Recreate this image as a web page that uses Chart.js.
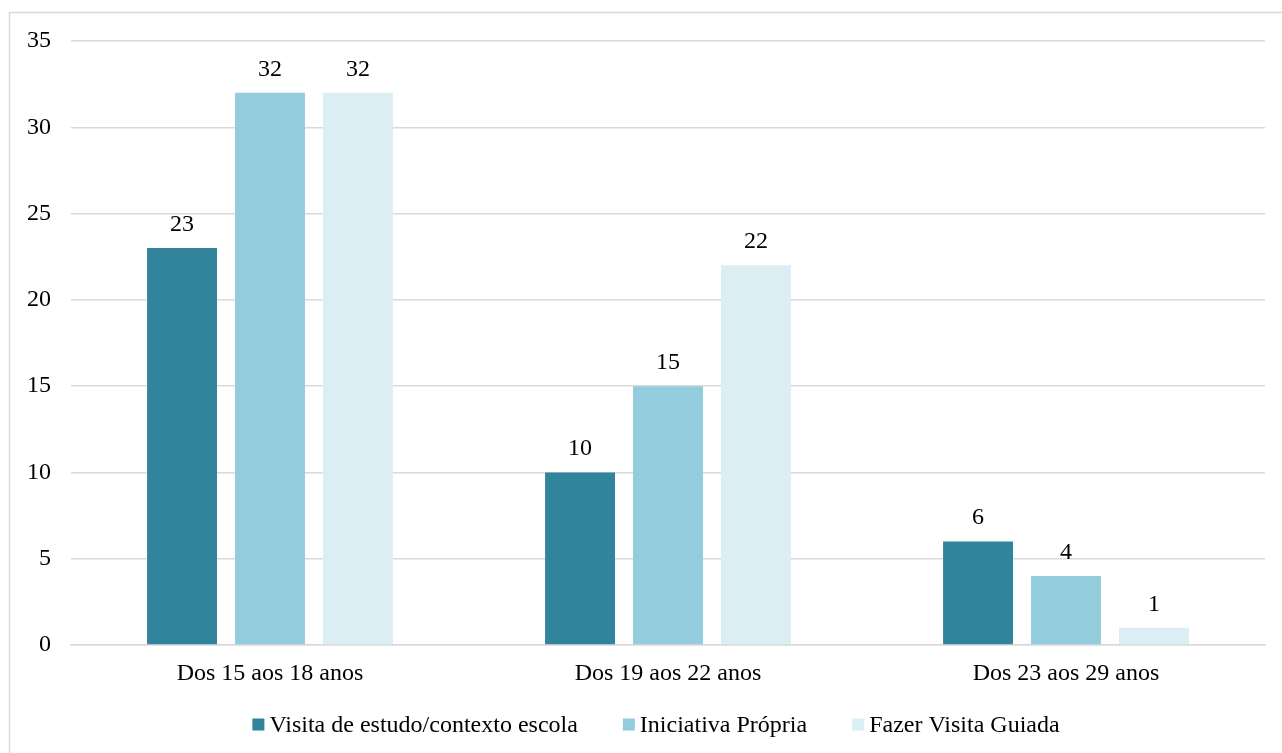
<!DOCTYPE html>
<html>
<head>
<meta charset="utf-8">
<script src="https://cdn.jsdelivr.net/npm/chart.js@4/dist/chart.umd.min.js"></script>
<style>
  html, body { margin: 0; padding: 0; background: #ffffff; }
  #wrap { width: 1282px; height: 753px; position: relative; }
</style>
</head>
<body>
<div id="wrap"><canvas id="c" width="1282" height="753"></canvas></div>
<script>
// Age groups on the x axis
const categories = ['Dos 15 aos 18 anos', 'Dos 19 aos 22 anos', 'Dos 23 aos 29 anos'];

// Series
const seriesNames = ['Visita de estudo/contexto escola', 'Iniciativa Própria', 'Fazer Visita Guiada'];
const visitaEstudo = [23, 10, 6];
const iniciativaPropria = [32, 15, 4];
const visitaGuiada = [32, 22, 1];
const seriesColors = ['#31849B', '#93CDDD', '#DAEEF3'];

// Value axis ticks
const yTicks = [0, 5, 10, 15, 20, 25, 30, 35];

const FONT = 'Liberation Serif, "Times New Roman", serif';

// Light frame along the top and left edges of the chart
const framePlugin = {
  id: 'frame',
  beforeDraw(chart) {
    const ctx = chart.ctx;
    ctx.save();
    ctx.strokeStyle = '#d9d9d9';
    ctx.lineWidth = 1.5;
    ctx.beginPath();
    ctx.moveTo(9.5, chart.height);
    ctx.lineTo(9.5, 12.5);
    ctx.lineTo(chart.width, 12.5);
    ctx.stroke();
    ctx.restore();
  }
};

// Value labels above each bar
const valueLabels = {
  id: 'valueLabels',
  afterDatasetsDraw(chart) {
    const ctx = chart.ctx;
    ctx.save();
    ctx.font = '24px ' + FONT;
    ctx.fillStyle = '#000000';
    ctx.textAlign = 'center';
    ctx.textBaseline = 'alphabetic';
    chart.data.datasets.forEach((ds, i) => {
      chart.getDatasetMeta(i).data.forEach((bar, j) => {
        ctx.fillText(String(ds.data[j]), bar.x, bar.y - 17);
      });
    });
    ctx.restore();
  }
};

// Compact legend row under the axis: small square, tight gap, label
const legendRow = {
  id: 'legendRow',
  afterDraw(chart) {
    const ctx = chart.ctx;
    const box = 12, gap = 5, itemGap = 45;
    const centerX = 656, centerY = 724.5;
    ctx.save();
    ctx.font = '24px ' + FONT;
    ctx.textBaseline = 'middle';
    ctx.textAlign = 'left';
    const items = chart.data.datasets.map(ds => ({
      text: ds.label, color: ds.backgroundColor, w: ctx.measureText(ds.label).width
    }));
    const total = items.reduce((s, it) => s + box + gap + it.w, 0) + itemGap * (items.length - 1);
    let x = centerX - total / 2;
    items.forEach(it => {
      ctx.fillStyle = it.color;
      ctx.fillRect(x, centerY - box / 2, box, box);
      ctx.fillStyle = '#000000';
      ctx.fillText(it.text, x + box + gap, centerY + 1);
      x += box + gap + it.w + itemGap;
    });
    ctx.restore();
  }
};

new Chart(document.getElementById('c'), {
  type: 'bar',
  data: {
    labels: categories,
    datasets: [
      { label: seriesNames[0], data: visitaEstudo, backgroundColor: seriesColors[0] },
      { label: seriesNames[1], data: iniciativaPropria, backgroundColor: seriesColors[1] },
      { label: seriesNames[2], data: visitaGuiada, backgroundColor: seriesColors[2] }
    ]
  },
  options: {
    responsive: false,
    animation: false,
    devicePixelRatio: 1,
    categoryPercentage: 0.663,
    barPercentage: 0.795,
    layout: { padding: { left: 0, right: 17, top: 41, bottom: 58 } },
    plugins: {
      legend: { display: false },
      tooltip: { enabled: false }
    },
    scales: {
      x: {
        grid: { display: false, drawTicks: false },
        border: { display: true, color: '#d9d9d9', width: 1.5 },
        ticks: { color: '#000000', font: { family: FONT, size: 24 }, padding: 14 },
        afterFit(scale) { scale.height = 50; scale.paddingLeft = 0; scale.paddingRight = 0; }
      },
      y: {
        min: 0,
        max: 35,
        afterBuildTicks(scale) { scale.ticks = yTicks.map(v => ({ value: v })); },
        grid: { color: '#d9d9d9', lineWidth: 1.5, drawTicks: false },
        border: { display: false },
        ticks: { color: '#000000', font: { family: FONT, size: 24 }, padding: 20 },
        afterFit(scale) { scale.width = 71; scale.paddingTop = 0; scale.paddingBottom = 0; }
      }
    }
  },
  plugins: [framePlugin, valueLabels, legendRow]
});
</script>
</body>
</html>
